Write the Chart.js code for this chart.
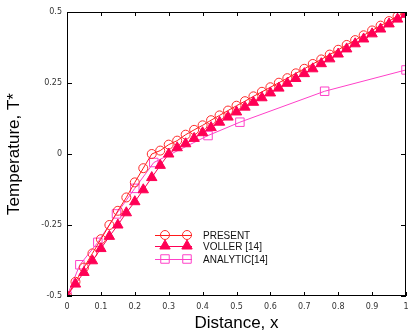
<!DOCTYPE html>
<html>
<head>
  <meta charset="UTF-8">
  <title>Temperature vs distance</title>
  <script src="https://cdn.jsdelivr.net/npm/chart.js"></script>
  <style>
    body {
      margin: 0;
      background-color: #ffffff;
    }
    canvas {
      display: block;
    }
  </style>
</head>
<body>

  <canvas id="lineChart" width="413" height="334"></canvas>

  <script>
    // values
    const presentX = [0, 0.025, 0.05, 0.075, 0.1, 0.125, 0.15, 0.175, 0.2, 0.225, 0.25, 0.275, 0.3, 0.325, 0.35, 0.375, 0.4, 0.425, 0.45, 0.475, 0.5,
      0.525, 0.55, 0.575, 0.6, 0.625, 0.65, 0.675, 0.7, 0.725, 0.75, 0.775, 0.8, 0.825, 0.85, 0.875, 0.9, 0.925, 0.95, 0.975, 1];
    const presentT = [-0.5, -0.45, -0.40, -0.35, -0.30, -0.25, -0.20, -0.153, -0.10, -0.05, 0.0, 0.012, 0.033, 0.047, 0.068, 0.085, 0.101, 0.119, 0.136, 0.153, 0.17,
      0.186, 0.203, 0.219, 0.235, 0.251, 0.267, 0.284, 0.30, 0.317, 0.333, 0.35, 0.367, 0.384, 0.401, 0.418, 0.435, 0.452, 0.468, 0.485, 0.5];

    const vollerX = presentX;
    const vollerT = [-0.5, -0.458, -0.417, -0.376, -0.333, -0.29, -0.25, -0.207, -0.168, -0.126, -0.083, -0.04, 0.0, 0.022, 0.036, 0.055, 0.075, 0.093, 0.112, 0.13, 0.148,
      0.165, 0.182, 0.198, 0.215, 0.232, 0.249, 0.266, 0.283, 0.30, 0.318, 0.335, 0.352, 0.37, 0.388, 0.405, 0.423, 0.44, 0.458, 0.475, 0.492];

    const analyticX = [0, 0.038, 0.091, 0.146, 0.2, 0.256, 0.416, 0.51, 0.76, 1];
    const analyticT = [-0.5, -0.39, -0.311, -0.211, -0.121, -0.03, 0.065, 0.112, 0.221, 0.296];

    const xTickLabels = ['0', '0.1', '0.2', '0.3', '0.4', '0.5', '0.6', '0.7', '0.8', '0.9', '1'];
    const yTickLabels = ['-0.5', '-0.25', '0', '0.25', '0.5'];

    function toPoints(xs, ys) {
      return xs.map((x, i) => ({ x: x, y: ys[i] }));
    }

    // frame, inward ticks and a line+marker legend like the original plot
    const framePlugin = {
      id: 'frame',
      afterDraw(chart) {
        const c = chart.ctx;
        const a = chart.chartArea;
        const xs = chart.scales.x;
        const ys = chart.scales.y;
        c.save();
        c.strokeStyle = '#000';
        c.lineWidth = 1;
        c.strokeRect(a.left + 0.5, a.top + 0.5, a.right - a.left - 1, a.bottom - a.top - 1);
        c.beginPath();
        xs.ticks.forEach(t => {
          const px = Math.round(xs.getPixelForValue(t.value)) + 0.5;
          c.moveTo(px, a.bottom); c.lineTo(px, a.bottom - 4);
          c.moveTo(px, a.top); c.lineTo(px, a.top + 4);
        });
        ys.ticks.forEach(t => {
          const py = Math.round(ys.getPixelForValue(t.value)) + 0.5;
          c.moveTo(a.left, py); c.lineTo(a.left + 5, py);
          c.moveTo(a.right, py); c.lineTo(a.right - 5, py);
        });
        c.stroke();

        // legend
        const lx = a.left + 88;
        const rowsY = [a.top + 223, a.top + 234, a.top + 247];
        c.font = '10px Arial';
        c.textBaseline = 'middle';
        chart.data.datasets.forEach((ds, i) => {
          const y = rowsY[i];
          c.strokeStyle = ds.borderColor;
          c.lineWidth = 1;
          c.beginPath();
          c.moveTo(lx, y + 0.5); c.lineTo(lx + 37, y + 0.5);
          c.stroke();
          [lx + 10, lx + 32].forEach(mx => {
            c.fillStyle = ds.pointBackgroundColor;
            c.strokeStyle = ds.pointBorderColor;
            c.lineWidth = ds.pointBorderWidth;
            Chart.helpers.drawPoint(c, {
              pointStyle: ds.pointStyle,
              radius: ds.pointRadius,
              borderWidth: ds.pointBorderWidth
            }, mx, y);
          });
          c.fillStyle = '#111';
          c.fillText(ds.label, lx + 48, y + 1);
        });
        c.restore();
      }
    };

    const ctx = document.getElementById('lineChart').getContext('2d');

    const chart = new Chart(ctx, {
      type: 'line',
      data: {
        datasets: [{
          label: 'PRESENT',
          data: toPoints(presentX, presentT),
          borderColor: '#ff1a1a',
          borderWidth: 1,
          pointStyle: 'circle',
          pointRadius: 4.5,
          pointBorderWidth: 1,
          pointBorderColor: '#ff2a2a',
          pointBackgroundColor: 'rgba(0,0,0,0)',
          order: 1
        }, {
          label: 'VOLLER [14]',
          data: toPoints(vollerX, vollerT),
          borderColor: '#ff0055',
          borderWidth: 1,
          pointStyle: 'triangle',
          pointRadius: 6,
          pointBorderWidth: 1,
          pointBorderColor: '#ff0055',
          pointBackgroundColor: '#ff0055',
          order: 0
        }, {
          label: 'ANALYTIC[14]',
          data: toPoints(analyticX, analyticT),
          borderColor: '#ff40c8',
          borderWidth: 1,
          pointStyle: 'rect',
          pointRadius: 6,
          pointBorderWidth: 1,
          pointBorderColor: '#ff40c8',
          pointBackgroundColor: 'rgba(0,0,0,0)',
          order: 2,
          clip: 0
        }]
      },
      options: {
        responsive: false,
        animation: false,
        layout: {
          padding: { left: 0, top: 12, right: 2, bottom: 0 }
        },
        elements: {
          line: { tension: 0, fill: false }
        },
        scales: {
          x: {
            type: 'linear',
            min: 0,
            max: 1,
            afterFit: s => { s.height = 38; s.paddingLeft = 0; s.paddingRight = 0; },
            grid: { display: false, drawTicks: false },
            border: { display: false },
            ticks: {
              stepSize: 0.1,
              padding: 6,
              maxRotation: 0,
              color: '#333',
              font: { family: 'DejaVu Sans', size: 8 },
              callback: (v, i) => xTickLabels[i]
            },
            title: {
              display: true,
              text: 'Distance, x',
              color: '#000',
              padding: { top: 0, bottom: 0 },
              font: { family: 'Arial', size: 17 }
            }
          },
          y: {
            min: -0.5,
            max: 0.5,
            afterFit: s => { s.width = 67; },
            grid: { display: false, drawTicks: false },
            border: { display: false },
            ticks: {
              stepSize: 0.25,
              padding: 5,
              color: '#333',
              font: { family: 'DejaVu Sans', size: 8 },
              callback: (v, i) => yTickLabels[i]
            },
            title: {
              display: true,
              text: 'Temperature, T*',
              color: '#000',
              padding: { top: 4, bottom: 0 },
              font: { family: 'Arial', size: 17 }
            }
          }
        },
        plugins: {
          legend: { display: false },
          tooltip: { enabled: false }
        }
      },
      plugins: [framePlugin]
    });
  </script>

</body>
</html>
